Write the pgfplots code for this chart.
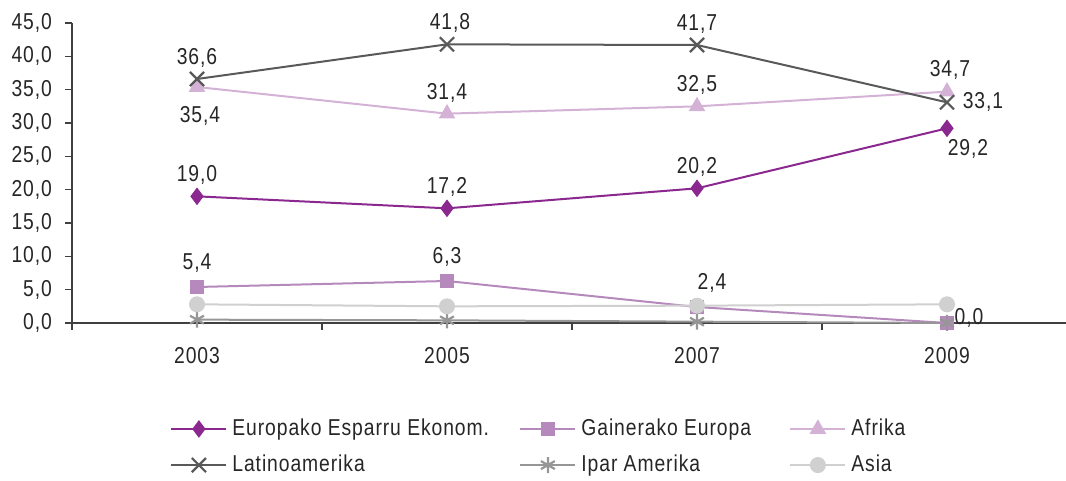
\documentclass[border=0pt]{standalone}
\usepackage{fontspec}
\setmainfont{Liberation Sans}[FakeStretch=0.84, LetterSpace=4]
\usepackage{pgfplots}
\pgfplotsset{compat=1.18}
\definecolor{cEE}{HTML}{8B2890}
\definecolor{cGE}{HTML}{B689BD}
\definecolor{cAF}{HTML}{D3B2D6}
\definecolor{cLA}{HTML}{595959}
\definecolor{cIA}{HTML}{969696}
\definecolor{cAS}{HTML}{D0D0D0}
\definecolor{txt}{HTML}{262626}
\begin{document}
\fontsize{11.5}{13.8}\selectfont
\begin{tikzpicture}
\useasboundingbox (0,0) rectangle (533pt,240.5pt);
\begin{axis}[
  at={(36pt,79pt)}, anchor=south west,
  scale only axis, width=497pt, height=150pt,
  xmin=-0.5, xmax=3.476, ymin=0, ymax=45,
  axis x line=bottom, axis y line=left,
  axis line style={-, draw=black!75, line width=0.6pt},
  xtick={-0.5,0.5,1.5,2.5}, xticklabels={},
  extra x ticks={0,1,2,3},
  extra x tick labels={2003,2005,2007,2009},
  extra x tick style={major tick length=0pt, tick label style={yshift=-8pt}},
  ytick={0,5,...,45},
  tick align=outside, major tick length=3.5pt,
  tick style={draw=black!75, line width=0.6pt},
  scaled y ticks=false,
  /pgf/number format/assume math mode=true,
  y tick label style={/pgf/number format/fixed, /pgf/number format/fixed zerofill,
    /pgf/number format/precision=1, /pgf/number format/use comma, xshift=-2.5pt},
  tick label style={text=txt},
  clip=false,
  every axis plot/.append style={line width=1pt},
  legend columns=3,
  legend cell align=left,
  legend style={at={(0.0986,-0.305)}, anchor=north west, draw=none, fill=none,
    inner xsep=0pt, inner ysep=0pt, row sep=4pt,
    nodes={text=txt, inner xsep=2.5pt}},
  legend image code/.code={\draw[mark repeat=2,mark phase=2] plot coordinates {(0pt,0pt) (13.75pt,0pt) (27.5pt,0pt)};},
]
\addplot[color=cEE, mark=diamond*, mark size=3.6pt] coordinates {(0,19.0) (1,17.2) (2,20.2) (3,29.2)};
\addlegendentry{\makebox[141pt][l]{Europako Esparru Ekonom.}}
\addplot[color=cGE, mark=square*, mark size=3.2pt] coordinates {(0,5.4) (1,6.3) (2,2.4) (3,0.0)};
\addlegendentry{\makebox[101.5pt][l]{Gainerako Europa}}
\addplot[color=cAF, mark=triangle*, mark size=3.8pt] coordinates {(0,35.4) (1,31.4) (2,32.5) (3,34.7)};
\addlegendentry{Afrika}
\addplot[color=cLA, mark=x, mark size=5pt, mark options={line width=1.1pt}] coordinates {(0,36.6) (1,41.8) (2,41.7) (3,33.1)};
\addlegendentry{\makebox[141pt][l]{Latinoamerika}}
\addplot[color=cIA, mark=asterisk, mark size=4pt, mark options={line width=1.1pt}] coordinates {(0,0.5) (1,0.4) (2,0.2) (3,0.0)};
\addlegendentry{\makebox[101.5pt][l]{Ipar Amerika}}
\addplot[color=cAS, mark=*, mark size=3.5pt] coordinates {(0,2.8) (1,2.5) (2,2.6) (3,2.8)};
\addlegendentry{Asia}
% data labels
\begin{scope}[every node/.style={text=txt}]
\node[yshift=10.5pt] at (axis cs:0,19.0) {19,0};
\node[yshift=10.5pt] at (axis cs:1,17.2) {17,2};
\node[yshift=10.5pt] at (axis cs:2,20.2) {20,2};
\node[xshift=10.5pt,yshift=-10.5pt] at (axis cs:3,29.2) {29,2};
\node[yshift=12pt] at (axis cs:0,5.4) {5,4};
\node[yshift=12pt] at (axis cs:1,6.3) {6,3};
\node[xshift=7.5pt,yshift=12pt] at (axis cs:2,2.4) {2,4};
\node[xshift=11pt,yshift=2.5pt] at (axis cs:3,0.0) {0,0};
\node[xshift=1.5pt,yshift=-14.5pt] at (axis cs:0,35.4) {35,4};
\node[yshift=10.5pt] at (axis cs:1,31.4) {31,4};
\node[yshift=10.5pt] at (axis cs:2,32.5) {32,5};
\node[xshift=1.5pt,yshift=11pt] at (axis cs:3,34.7) {34,7};
\node[yshift=10.5pt] at (axis cs:0,36.6) {36,6};
\node[xshift=1.5pt,yshift=10.5pt] at (axis cs:1,41.8) {41,8};
\node[yshift=10.5pt] at (axis cs:2,41.7) {41,7};
\node[xshift=18pt] at (axis cs:3,33.1) {33,1};
\end{scope}
\end{axis}
\end{tikzpicture}
\end{document}
